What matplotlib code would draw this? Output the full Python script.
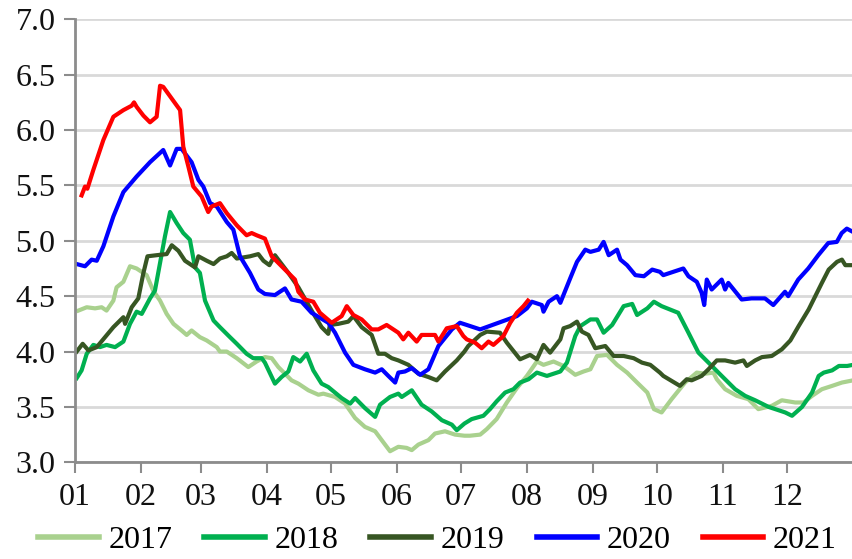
import numpy as np
import matplotlib
matplotlib.use("Agg")
from matplotlib import pyplot as plt
from matplotlib.lines import Line2D

plt.rcParams['font.family'] = ['Liberation Serif', 'DejaVu Serif']

# (day of year, value) pairs
y2017 = [(1.6, 4.37), (5.5, 4.40), (9.4, 4.39), (12.5, 4.40), (14.8, 4.37), (18.0, 4.46), (19.5, 4.58),
         (22.7, 4.63), (25.8, 4.77), (28.9, 4.75), (33.6, 4.69), (36.7, 4.55), (39.9, 4.46), (43.0, 4.34),
         (46.2, 4.25), (50.0, 4.19), (52.4, 4.15), (54.7, 4.19), (58.6, 4.13), (61.8, 4.10), (66.5, 4.04),
         (68.0, 4.00), (71.2, 4.00), (75.9, 3.94), (81.3, 3.86), (85.2, 3.91), (89.1, 3.95), (92.3, 3.94),
         (95.4, 3.86), (98.5, 3.80), (101.6, 3.74), (104.8, 3.71), (109.5, 3.65), (114.2, 3.61), (116.5, 3.62),
         (122.0, 3.59), (126.7, 3.53), (131.4, 3.40), (136.0, 3.32), (140.8, 3.28), (143.9, 3.20), (147.8, 3.10),
         (151.7, 3.14), (155.6, 3.13), (158.0, 3.11), (161.1, 3.16), (165.8, 3.20), (168.9, 3.26), (173.6, 3.28),
         (178.3, 3.25), (182.7, 3.24), (185.3, 3.24), (190.1, 3.25), (193.2, 3.30), (197.8, 3.39), (202.6, 3.54),
         (207.3, 3.67), (212.0, 3.78), (216.7, 3.91), (219.8, 3.88), (224.5, 3.91), (229.2, 3.87), (234.7, 3.79),
         (238.6, 3.82), (241.8, 3.84), (244.9, 3.96), (249.6, 3.97), (254.3, 3.88), (259.0, 3.81), (263.7, 3.72),
         (268.5, 3.63), (271.6, 3.48), (275.2, 3.45), (279.9, 3.57), (286.2, 3.72), (291.7, 3.81), (295.6, 3.80),
         (299.5, 3.81), (301.1, 3.75), (305.0, 3.66), (310.5, 3.60), (315.9, 3.57), (320.6, 3.48), (326.9, 3.51),
         (331.6, 3.56), (337.9, 3.54), (341.8, 3.54), (345.8, 3.60), (350.4, 3.66), (355.2, 3.69), (359.8, 3.72),
         (365.0, 3.74)]

y2018 = [(0.8, 3.76), (3.1, 3.83), (5.5, 3.98), (8.6, 4.06), (11.7, 4.04), (14.8, 4.06), (18.8, 4.04),
         (22.7, 4.09), (25.8, 4.25), (28.9, 4.36), (31.3, 4.34), (35.2, 4.48), (37.5, 4.55), (39.9, 4.80),
         (42.2, 5.04), (44.6, 5.26), (47.7, 5.16), (50.8, 5.07), (53.9, 5.01), (56.3, 4.76), (58.6, 4.71),
         (61.0, 4.46), (65.0, 4.28), (68.0, 4.22), (72.7, 4.13), (75.9, 4.07), (80.5, 3.98), (83.6, 3.94),
         (87.6, 3.94), (89.1, 3.90), (93.8, 3.71), (96.9, 3.77), (100.1, 3.82), (102.4, 3.95), (105.6, 3.91),
         (108.7, 3.98), (111.8, 3.83), (115.7, 3.71), (118.8, 3.68), (125.1, 3.58), (129.1, 3.53), (131.4, 3.58),
         (136.0, 3.49), (140.8, 3.41), (143.1, 3.52), (147.8, 3.59), (151.7, 3.62), (153.3, 3.59), (158.0, 3.65),
         (162.6, 3.52), (167.3, 3.46), (172.1, 3.38), (176.8, 3.34), (179.1, 3.29), (182.7, 3.35), (186.1, 3.39),
         (191.6, 3.42), (194.7, 3.48), (197.8, 3.55), (201.8, 3.63), (205.7, 3.66), (208.8, 3.72), (212.8, 3.75),
         (216.7, 3.81), (221.4, 3.78), (227.7, 3.82), (230.8, 3.90), (234.7, 4.14), (237.1, 4.23), (241.8, 4.29),
         (244.9, 4.29), (248.0, 4.17), (252.0, 4.24), (257.4, 4.41), (261.4, 4.43), (263.7, 4.33), (268.5, 4.39),
         (271.6, 4.45), (275.2, 4.41), (283.0, 4.35), (287.8, 4.17), (292.5, 3.99), (297.2, 3.90), (303.4, 3.78),
         (309.7, 3.66), (314.4, 3.60), (319.1, 3.56), (325.4, 3.50), (330.1, 3.47), (333.2, 3.45), (336.4, 3.42),
         (341.1, 3.50), (345.8, 3.63), (348.9, 3.78), (351.3, 3.81), (355.2, 3.83), (358.4, 3.87), (362.3, 3.87),
         (365.0, 3.88)]

y2019 = [(0.8, 4.00), (3.6, 4.07), (6.3, 4.01), (10.2, 4.04), (14.1, 4.13), (18.0, 4.22), (22.7, 4.31),
         (23.5, 4.25), (26.6, 4.40), (29.7, 4.48), (32.1, 4.71), (34.0, 4.86), (38.3, 4.87), (43.0, 4.88),
         (45.4, 4.96), (48.5, 4.91), (51.6, 4.82), (56.3, 4.76), (57.9, 4.86), (61.8, 4.82), (65.0, 4.79),
         (68.0, 4.84), (71.2, 4.86), (73.5, 4.89), (75.9, 4.84), (82.1, 4.86), (86.0, 4.88), (88.4, 4.82),
         (91.2, 4.78), (93.8, 4.87), (100.1, 4.71), (104.8, 4.58), (111.0, 4.37), (115.7, 4.22), (118.8, 4.16),
         (119.6, 4.24), (123.5, 4.25), (128.2, 4.27), (130.6, 4.32), (134.5, 4.22), (139.2, 4.15), (142.3, 3.98),
         (145.4, 3.98), (148.6, 3.94), (151.7, 3.92), (156.4, 3.88), (161.1, 3.80), (165.8, 3.77), (169.7, 3.74),
         (173.6, 3.82), (179.1, 3.92), (182.7, 4.00), (184.5, 4.05), (190.1, 4.15), (193.2, 4.18), (199.4, 4.17),
         (202.6, 4.08), (208.8, 3.93), (213.5, 3.97), (216.7, 3.93), (219.8, 4.06), (222.9, 3.99), (227.7, 4.11),
         (229.2, 4.21), (232.3, 4.23), (235.5, 4.27), (237.8, 4.18), (240.9, 4.15), (244.1, 4.03), (248.8, 4.05),
         (252.7, 3.96), (257.4, 3.96), (262.1, 3.94), (266.0, 3.90), (269.9, 3.88), (274.4, 3.81), (276.0, 3.78),
         (283.8, 3.69), (287.0, 3.75), (289.3, 3.74), (294.0, 3.78), (297.2, 3.84), (301.1, 3.92), (305.0, 3.92),
         (309.7, 3.90), (313.6, 3.92), (315.2, 3.87), (319.1, 3.92), (322.3, 3.95), (326.9, 3.96), (331.6, 4.02),
         (335.6, 4.10), (339.5, 4.23), (344.2, 4.38), (347.3, 4.50), (350.4, 4.62), (353.6, 4.74), (357.5, 4.81),
         (359.8, 4.83), (361.4, 4.78), (365.0, 4.78)]

y2020 = [(0.8, 4.79), (4.7, 4.77), (7.8, 4.83), (10.2, 4.82), (13.3, 4.95), (18.0, 5.22), (22.7, 5.44),
         (28.9, 5.58), (35.2, 5.71), (41.4, 5.82), (44.6, 5.68), (47.7, 5.83), (50.0, 5.83), (54.7, 5.71),
         (57.9, 5.55), (60.2, 5.49), (63.4, 5.34), (66.5, 5.31), (71.2, 5.17), (74.3, 5.10), (77.4, 4.86),
         (82.1, 4.71), (86.0, 4.56), (89.1, 4.52), (93.8, 4.51), (98.5, 4.57), (101.6, 4.47), (106.3, 4.45),
         (111.0, 4.35), (118.8, 4.26), (122.0, 4.17), (126.7, 3.99), (130.6, 3.88), (136.0, 3.84), (140.8, 3.81),
         (143.9, 3.84), (147.0, 3.78), (150.2, 3.72), (151.7, 3.81), (154.8, 3.82), (158.0, 3.85), (161.9, 3.79),
         (165.8, 3.84), (170.5, 4.05), (176.8, 4.20), (180.6, 4.26), (183.8, 4.24), (190.1, 4.20), (207.3, 4.32),
         (212.0, 4.39), (214.3, 4.45), (219.0, 4.42), (219.8, 4.36), (222.2, 4.45), (226.1, 4.50), (227.7, 4.44),
         (232.3, 4.66), (235.5, 4.81), (239.4, 4.92), (241.8, 4.90), (245.7, 4.92), (248.0, 4.99), (250.4, 4.87),
         (254.3, 4.92), (255.9, 4.83), (259.0, 4.78), (262.9, 4.69), (266.9, 4.68), (270.8, 4.74), (274.4, 4.72),
         (276.0, 4.69), (285.4, 4.75), (287.8, 4.68), (291.7, 4.63), (294.0, 4.53), (295.2, 4.42), (296.4, 4.65),
         (298.7, 4.56), (303.4, 4.65), (305.0, 4.56), (306.5, 4.62), (312.8, 4.47), (317.4, 4.48), (323.7, 4.48),
         (327.6, 4.42), (333.1, 4.54), (334.6, 4.50), (339.3, 4.65), (344.0, 4.75), (348.7, 4.87), (353.4, 4.98),
         (357.4, 4.99), (359.7, 5.07), (362.1, 5.11), (365.0, 5.08)]

y2021 = [(3.1, 5.41), (4.7, 5.49), (5.8, 5.47), (8.6, 5.64), (13.3, 5.91), (18.0, 6.12), (22.7, 6.18),
         (26.6, 6.22), (27.7, 6.25), (28.9, 6.21), (32.1, 6.13), (35.2, 6.07), (38.3, 6.12), (39.9, 6.40),
         (41.4, 6.39), (49.3, 6.18), (50.8, 5.85), (53.2, 5.67), (55.5, 5.49), (59.4, 5.40), (62.5, 5.26),
         (64.1, 5.31), (68.0, 5.34), (71.2, 5.25), (75.9, 5.14), (80.5, 5.05), (82.9, 5.07), (85.2, 5.05),
         (89.1, 5.02), (92.3, 4.86), (98.5, 4.74), (103.2, 4.65), (104.8, 4.54), (107.9, 4.47), (111.8, 4.45),
         (114.9, 4.35), (120.4, 4.26), (125.1, 4.32), (127.5, 4.41), (130.6, 4.33), (134.5, 4.29), (139.2, 4.20),
         (142.3, 4.20), (146.2, 4.24), (151.7, 4.17), (154.0, 4.11), (156.4, 4.17), (160.3, 4.09), (162.6, 4.15),
         (168.9, 4.15), (170.5, 4.09), (174.4, 4.21), (179.1, 4.23), (182.2, 4.14), (183.8, 4.11), (187.7, 4.08),
         (190.8, 4.03), (194.0, 4.09), (196.3, 4.06), (201.0, 4.14), (204.2, 4.26), (207.3, 4.35), (210.4, 4.41),
         (212.5, 4.46)]

years = ['2017', '2018', '2019', '2020', '2021']
series = [y2017, y2018, y2019, y2020, y2021]
colors = ['#A9D18E', '#00B050', '#375623', '#0000FF', '#FF0000']

month_starts = [0, 31, 59, 90, 120, 151, 181, 212, 243, 273, 304, 334]
month_labels = ['01', '02', '03', '04', '05', '06', '07', '08', '09', '10', '11', '12']

fig = plt.figure(figsize=(8.53, 5.59), dpi=100)
ax = fig.add_axes([75 / 853, 1 - 462.3 / 559, 778 / 853, 443 / 559])

for name, data, c in zip(years, series, colors):
    d = np.array(data)
    ax.plot(d[:, 0], d[:, 1], color=c, lw=3, solid_joinstyle='round', label=name)

ax.set_xlim(0, 365)
ax.set_ylim(3.0, 7.0)
ax.set_yticks(np.arange(3.0, 7.01, 0.5))
ax.set_yticklabels([f'{v:.1f}' for v in np.arange(3.0, 7.01, 0.5)])
ax.set_xticks(month_starts)
ax.set_xticklabels(month_labels)

ax.grid(axis='y', color='#D9D9D9', lw=2)
ax.set_axisbelow(True)
for s in ['top', 'right']:
    ax.spines[s].set_visible(False)
for s in ['left', 'bottom']:
    ax.spines[s].set_color('#8C8C8C')
    ax.spines[s].set_linewidth(2)
ax.tick_params(axis='both', length=8, width=1.5, color='#8C8C8C', labelsize=23, labelcolor='#111111')
ax.tick_params(axis='x', pad=7)
ax.tick_params(axis='y', pad=6)

handles = [Line2D([], [], color=c, lw=4) for c in colors]
fig.legend(handles, years, loc='lower center', bbox_to_anchor=(0.513, -0.045), ncol=5, frameon=False,
           fontsize=23, handlelength=1.9, handletextpad=0.3, columnspacing=1.0)

fig.savefig('out.png', dpi=100)
